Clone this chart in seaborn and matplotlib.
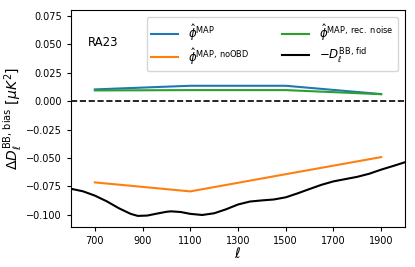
import numpy as np
import pandas as pd
import matplotlib
matplotlib.use("Agg")
import matplotlib.pyplot as plt
import seaborn as sns

# bias estimates at the bin centres
ell_bins = [700, 1100, 1500, 1900]
bias_map = [0.0102, 0.0134, 0.0134, 0.0061]
bias_nooBD = [-0.0714, -0.0793, -0.0642, -0.0492]
bias_recnoise = [0.0093, 0.0096, 0.0096, 0.0060]

# negated fiducial BB spectrum
ell_fid = [600, 650, 700, 750, 800, 850, 880, 920, 960, 1000, 1020, 1060, 1100,
           1150, 1200, 1250, 1300, 1350, 1400, 1450, 1500, 1550, 1600, 1650,
           1700, 1750, 1800, 1850, 1900, 1950, 2000]
dl_fid = [-0.0770, -0.0792, -0.0830, -0.0880, -0.0940, -0.0990, -0.1008, -0.1005,
          -0.0988, -0.0972, -0.0968, -0.0974, -0.0990, -0.1000, -0.0985, -0.0950,
          -0.0908, -0.0882, -0.0872, -0.0864, -0.0845, -0.0810, -0.0772, -0.0735,
          -0.0705, -0.0685, -0.0665, -0.0638, -0.0602, -0.0570, -0.0537]

labels = [r'$\hat{\phi}^{\rm MAP}$', r'$\hat{\phi}^{\rm MAP,\, noOBD}$',
          r'$\hat{\phi}^{\rm MAP,\, rec.\ noise}$', r'$-D_\ell^{\rm BB,\, fid}$']
colors = ['#1f77b4', '#ff7f0e', '#2ca02c', 'black']

fig = plt.figure(figsize=(4.15, 2.67), dpi=100)
ax = fig.add_axes([0.171, 0.150, 0.805, 0.813])

for vals, lab, c in zip([bias_map, bias_nooBD, bias_recnoise], labels[:3], colors[:3]):
    sns.lineplot(x=ell_bins, y=vals, color=c, label=lab, ax=ax, lw=1.5)
sns.lineplot(x=ell_fid, y=dl_fid, color=colors[3], label=labels[3], ax=ax, lw=1.5)

ax.axhline(0, color='black', ls='--', lw=1.2)
ax.text(671, 0.0518, 'RA23', fontsize=8.5, va='center')

ax.set_xlim(600, 2000)
ax.set_ylim(-0.1105, 0.080)
ax.set_xticks(np.arange(700, 2000, 200))
ax.set_yticks([-0.100, -0.075, -0.050, -0.025, 0.000, 0.025, 0.050, 0.075])
ax.tick_params(labelsize=7, length=3)
ax.set_xlabel(r'$\ell$', fontsize=10, labelpad=0)
ax.set_ylabel(r'$\Delta D_\ell^{\rm BB,\, bias}\ [\mu K^2]$', fontsize=10, labelpad=1)

ax.legend(loc='upper right', ncol=2, fontsize=8.5, handlelength=2.3,
          handletextpad=0.8, columnspacing=2.8, labelspacing=0.25,
          borderaxespad=0.6)

fig.savefig('out.png', dpi=100)
